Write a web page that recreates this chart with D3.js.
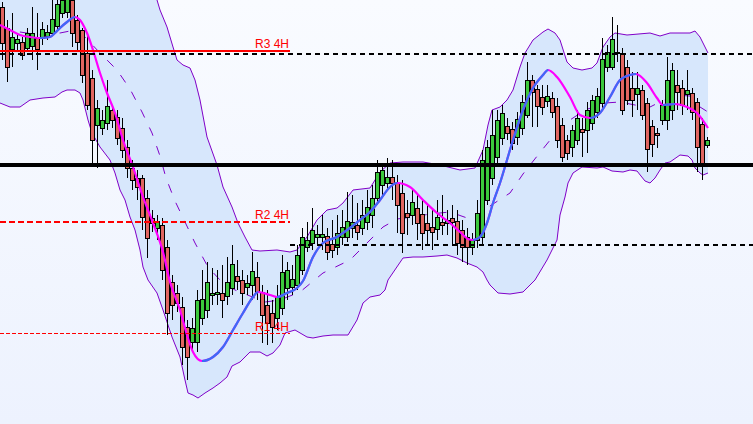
<!DOCTYPE html>
<html><head><meta charset="utf-8">
<script src="https://cdn.jsdelivr.net/npm/d3@7"></script>
<style>html,body{margin:0;padding:0;overflow:hidden;background:#f4f7ff}svg{display:block}</style>
</head><body>
<svg id="chart" width="753" height="424"></svg>
<script>
// ---- data (price levels, screen-level units) ----
const open  = [7,28,49,43,42,48,46,38,38,36,33,26,13,12,0,20,30,53,78,125,128,123,110,117,128,147,168,178,178,198,218,228,225,247,282,293,307,327,342,342,318,310,295,294,293,296,288,276,280,287,285,277,292,305,313,318,308,288,287,285,270,247,243,237,237,236,244,247,237,237,228,225,228,222,215,198,185,183,177,183,193,213,215,208,214,223,227,229,222,223,218,221,230,237,247,240,237,200,178,157,138,126,129,137,128,115,80,89,97,101,98,106,125,140,147,140,129,130,123,112,103,67,67,53,53,67,88,94,90,103,126,133,120,120,110,85,88,94,93,102,124,145];
const close = [43,67,37,39,55,33,33,49,29,32,19,4,0,-3,33,42,75,105,140,108,120,106,120,138,150,168,180,187,217,238,223,221,270,313,305,303,347,357,328,300,299,282,293,292,300,282,264,281,293,283,271,292,315,323,327,297,272,270,279,255,237,240,230,234,234,252,250,233,227,221,222,232,215,207,198,172,170,177,183,205,233,217,202,223,233,230,232,217,225,220,222,243,247,247,240,213,160,147,135,120,113,133,143,119,102,80,92,106,107,96,112,140,157,153,130,118,132,110,100,96,59,52,39,52,110,100,100,88,115,149,144,135,105,80,70,92,105,90,112,147,163,140];
const high  = [2,20,13,33,37,28,7,13,22,25,0,-2,-5,-6,-3,15,28,33,70,100,110,80,105,110,118,140,160,170,175,190,210,215,218,240,275,285,297,320,318,290,270,262,268,270,265,257,245,260,270,275,252,262,285,290,300,285,255,262,265,245,228,222,208,225,215,228,220,215,210,192,195,203,200,190,185,160,165,158,160,175,180,200,190,195,200,205,210,200,195,210,205,210,220,228,233,200,150,140,110,110,105,118,122,112,95,62,75,85,85,85,92,98,118,135,125,110,118,102,95,88,38,45,17,25,48,60,72,72,85,98,120,128,100,57,63,70,80,70,88,98,118,137];
const low   = [60,82,67,50,60,52,60,70,45,40,35,30,18,18,47,50,83,110,163,168,135,130,128,145,158,178,190,200,230,258,232,240,280,335,320,312,365,380,350,352,325,318,305,305,318,305,295,290,305,295,300,300,343,345,343,330,315,300,295,290,275,252,250,245,250,260,258,255,245,242,238,240,235,230,228,205,195,190,200,233,253,235,225,240,250,245,250,240,235,235,245,255,262,265,255,248,245,205,185,165,145,140,150,145,135,118,127,127,115,107,118,148,162,160,157,145,157,153,130,118,108,72,70,62,115,105,117,110,120,172,157,148,125,130,120,110,115,110,120,172,180,148];

// Bollinger band and moving averages: [bar index, level]
const upperBand = [[-0.4,-43],[7.6,-28],[14.6,-30],[19.6,-41],[25.6,-39],[29.6,-20],[31,0],[31.6,10],[33,27],[34.2,47],[35,60],[36.2,65],[37.6,68],[38.6,80],[39.6,100],[41,137],[43,165],[44.2,187],[46,207],[47.2,223],[48.6,237],[50,250],[51.6,251],[55,250],[57.6,252],[59,250],[61,237],[63,220],[65,210],[67,208],[68.2,203],[70.2,190],[73.6,188],[75.6,172],[77.6,163],[80.2,162],[84.2,162],[87.6,165],[91.6,170],[94.6,168],[96.2,150],[97.2,125],[98,110],[99.6,107],[101,100],[102.2,90],[103.6,67],[104.6,53],[106.2,40],[108.2,32],[109.2,29],[110.6,33],[111.6,40],[113,62],[114.2,68],[116,70],[118,68],[119,63],[120.2,47],[121.6,37],[122.6,33],[125,35],[129.6,33],[131.6,36],[133.6,33],[137.6,33],[138.6,31],[139.6,37],[140.6,47],[141.2,53]];
const lowerBand = [[-0.4,103],[1.6,107],[3.6,107],[5.6,100],[8.2,98],[10.6,97],[12,92],[13,90],[14.6,90],[15.6,93],[16.2,100],[17.2,120],[18,133],[19.6,147],[21.6,160],[22.6,173],[23.6,190],[24.6,200],[25.6,217],[26.6,230],[27.6,250],[28.2,267],[29.2,280],[31,293],[32.2,310],[34,337],[35.6,357],[36.6,380],[37.2,393],[38.2,395],[39.2,398],[40.6,393],[42.2,388],[43.6,383],[45,377],[46,366],[47.6,362],[49.6,352],[51.6,352],[53,356],[54.2,353],[55.6,345],[56.6,333],[58.6,330],[61,337],[62.2,338],[64.2,336],[66.2,335],[69.2,335],[71,320],[72.2,303],[73.6,297],[75.6,295],[76.6,290],[77.2,280],[80.2,258],[82.2,257],[84.2,257],[87,256],[89,255],[91,258],[93,263],[95,267],[96.2,272],[97,280],[97.6,285],[99.2,293],[101.6,294],[104.2,292],[106.6,280],[109,260],[111,240],[111.6,215],[112.6,197],[113.2,183],[114.2,173],[116,167],[119,168],[120.2,167],[122,171],[124.2,172],[125.6,170],[127,171],[128.6,181],[129.6,183],[130.6,178],[131.6,170],[132.6,163],[133.6,162],[135.6,155],[137.2,156],[138,160],[138.6,168],[139.6,173],[140.2,175],[141.2,173]];
const middleBand = [[-0.4,30],[3.6,32],[7.6,35],[11.6,33],[14.6,30],[16.6,37],[19.6,53],[23,70],[25.6,89],[28,112],[30,133],[31.6,156],[32.8,178],[34.6,201],[36.6,222],[38.6,243],[41.2,267],[43.6,280],[46.6,290],[49.6,296],[52.6,302],[55.6,300],[59.6,292],[64.2,273],[69.6,260],[72.6,245],[76.2,227],[79,219],[82.2,217],[85.6,214],[89.6,212],[93.6,219],[95.6,219],[97.6,206],[101.6,193],[104.2,174],[107.2,155],[110.6,134],[113.6,120],[116.6,110],[120.6,103],[123.6,102],[127.6,106],[129.6,107],[131.6,102],[134.6,95],[137.6,96],[139.6,107],[141.2,112]];
const fastMA = [[-0.4,25],[1.6,30],[3.6,35],[5.6,37],[7.6,38],[9.6,37],[10.6,33],[11.6,28],[13,22],[14.6,17],[15.6,20],[17,33],[18.2,50],[19.6,73],[21,93],[22.6,113],[24.2,140],[26.2,167],[28.2,197],[30.2,223],[32.2,252],[33.6,282],[35.6,310],[37,335],[38.2,352],[40,361],[42.2,357],[44.2,347],[46.2,330],[48.2,313],[50.2,297],[51.2,292],[53.6,295],[55,297],[57,293],[59,288],[60.2,281],[62.2,257],[64.2,243],[67,237],[69.6,228],[71.6,220],[73.6,212],[75.6,200],[77.6,187],[79,183],[81.6,187],[84.2,200],[87,213],[89.6,223],[91.6,232],[93.2,239],[94.2,240],[95.6,237],[97,223],[98.2,203],[99.6,183],[101,160],[102.2,140],[104.2,110],[106.2,88],[108.2,75],[109.2,70],[111,77],[113.6,97],[115.6,115],[117.6,118],[119.6,113],[121.6,97],[123.6,80],[125.6,75],[126.8,74],[129,83],[131,98],[132.2,105],[134.6,104],[137,107],[139,113],[141.2,128]];

const resistNames  = ["R3 4H", "R2 4H", "R1 4H"];
const resistLevels = [51, 221.7, 333.5];
const pivotLevels  = [53.5, 164.7, 244.8];

// ---- drawing ----
const W = 753, H = 424;
const svg = d3.select("#chart");
const x = d3.scaleLinear().domain([0, 141]).range([2, 707]);
const y = d3.scaleLinear().domain([0, 424]).range([0, 424]);

const defs = svg.append("defs");
const grad = defs.append("linearGradient").attr("id", "bg").attr("x1", 0).attr("y1", 0).attr("x2", 0).attr("y2", 1);
grad.append("stop").attr("offset", "0%").attr("stop-color", "#f9fbff");
grad.append("stop").attr("offset", "100%").attr("stop-color", "#edf2fe");
svg.append("rect").attr("width", W).attr("height", H).attr("fill", "url(#bg)");

const line = d3.line().x(d => x(d[0])).y(d => y(d[1]));

// band fill
svg.append("path")
  .attr("d", line(upperBand.concat(lowerBand.slice().reverse())) + "Z")
  .attr("fill", "#d7e7fc");

const bandColor = "#8000c8";
svg.append("path").attr("d", line(upperBand)).attr("fill", "none").attr("stroke", bandColor).attr("stroke-width", 1);
svg.append("path").attr("d", line(lowerBand)).attr("fill", "none").attr("stroke", bandColor).attr("stroke-width", 1);
svg.append("path").attr("d", line(middleBand)).attr("fill", "none").attr("stroke", bandColor).attr("stroke-width", 1).attr("stroke-dasharray", "9,11");

// candles
const idx = d3.range(open.length);
const cg = svg.append("g").attr("shape-rendering", "crispEdges");
cg.selectAll("line.wick").data(idx).join("line").attr("class", "wick")
  .attr("x1", i => x(i) + 0.5).attr("x2", i => x(i) + 0.5)
  .attr("y1", i => y(high[i])).attr("y2", i => y(low[i]))
  .attr("stroke", "#000").attr("stroke-width", 1);
cg.selectAll("rect.body").data(idx).join("rect").attr("class", "body")
  .attr("x", i => x(i) - 1.5)
  .attr("width", 4)
  .attr("y", i => Math.round(y(Math.min(open[i], close[i]))) + 0.5)
  .attr("height", i => Math.max(1, Math.round(Math.abs(y(close[i]) - y(open[i])))))
  .attr("fill", i => close[i] <= open[i] ? "#3cc83c" : "#e06560")
  .attr("stroke", "#000").attr("stroke-width", 1);

// fast MA coloured by direction (blue rising, magenta falling)
const maPath = d3.line().x(d => x(d[0])).y(d => y(d[1])).curve(d3.curveMonotoneX)(fastMA);
svg.append("path").attr("d", maPath).attr("fill", "none").attr("stroke", "#ff00ff").attr("stroke-width", 2.2);
const clip = defs.append("clipPath").attr("id", "rising");
for (let k = 0; k < fastMA.length - 1; k++) {
  if (fastMA[k + 1][1] < fastMA[k][1]) {
    clip.append("rect").attr("x", x(fastMA[k][0])).attr("y", 0)
      .attr("width", x(fastMA[k + 1][0]) - x(fastMA[k][0]) + 0.3).attr("height", H);
  }
}
svg.append("path").attr("d", maPath).attr("fill", "none").attr("stroke", "#3b6cf6").attr("stroke-width", 2.2).attr("clip-path", "url(#rising)");

// horizontal levels
const lg = svg.append("g").attr("shape-rendering", "crispEdges");
const levelX1 = 290;
lg.append("line").attr("x1", 0).attr("x2", W).attr("y1", y(pivotLevels[0])).attr("y2", y(pivotLevels[0]))
  .attr("stroke", "#000").attr("stroke-width", 2).attr("stroke-dasharray", "5,4");
lg.append("line").attr("x1", 0).attr("x2", W).attr("y1", y(pivotLevels[1])).attr("y2", y(pivotLevels[1]))
  .attr("stroke", "#000").attr("stroke-width", 4);
lg.append("line").attr("x1", levelX1).attr("x2", W).attr("y1", y(pivotLevels[2])).attr("y2", y(pivotLevels[2]))
  .attr("stroke", "#000").attr("stroke-width", 2).attr("stroke-dasharray", "5,4");
const rStyles = [{w: 2, dash: null}, {w: 2, dash: "6,3"}, {w: 1, dash: "4,2"}];
resistLevels.forEach((v, k) => {
  const l = lg.append("line").attr("x1", 0).attr("x2", levelX1).attr("y1", y(v)).attr("y2", y(v))
    .attr("stroke", "#ff0000").attr("stroke-width", rStyles[k].w);
  if (rStyles[k].dash) l.attr("stroke-dasharray", rStyles[k].dash);
});
svg.append("g").selectAll("text").data(resistNames).join("text")
  .attr("x", levelX1 - 1)
  .attr("y", (d, k) => y(resistLevels[k]) - 3)
  .attr("text-anchor", "end")
  .attr("font-family", "Liberation Sans, Arial, sans-serif")
  .attr("font-size", 12)
  .attr("fill", "#ff0000")
  .text(d => d);
</script>
</body></html>
